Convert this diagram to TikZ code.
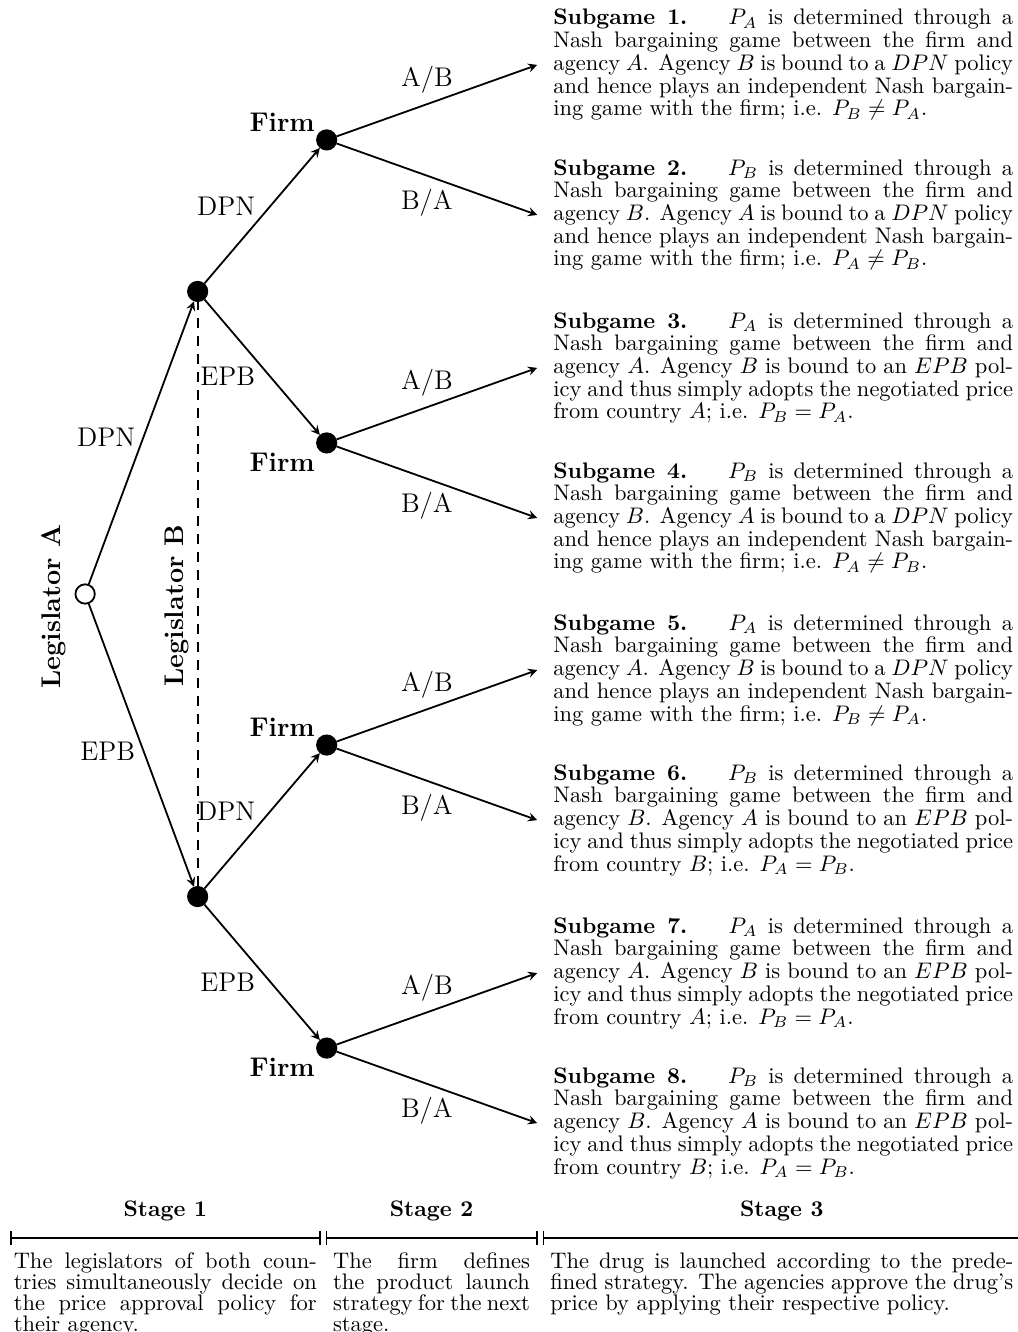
\documentclass[tikz,border=0pt]{standalone}
\usepackage{amsmath}
\usepackage{amssymb}
\usetikzlibrary{arrows, arrows.meta, positioning}

\newcommand{\treefont}{\fontsize{12pt}{14.5pt}\selectfont}
\newcommand{\gamefont}{\fontsize{10pt}{10.1pt}\selectfont}
\newcommand{\stagefont}{\fontsize{10pt}{9.4pt}\selectfont}

\tikzstyle{arrow} = [thick,->,>=stealth]
\tikzstyle{decision} = [circle, draw, thick, fill=black,
    inner sep=0pt, minimum size=8.6pt]
\tikzstyle{origin} = [decision, fill=white]
\tikzstyle{move} = [font=\treefont]
\tikzstyle{player} = [font=\treefont\bfseries]
\tikzstyle{infoset} = [thick, dash pattern=on 4.5pt off 3.5pt]
\tikzstyle{subgame} = [text width=204.4pt, align=justify, font=\gamefont]
\tikzstyle{timeline} = [thick, {Bar[width=6.5pt]}-{Bar[width=6.5pt]}]
\tikzstyle{stage} = [align=justify, font=\stagefont]

\begin{document}
\begin{tikzpicture}[node distance = 1cm, thick]
	\useasboundingbox (0,0) rectangle (15.89,-20.81);
	% legislators
	\node [origin] (LegA) at (1.33,-9.28) {};
	\node [decision, on grid, above right=4.727cm and 1.758cm of LegA]
		(LegB_dpn) {};
	\node [decision, on grid, below right=4.727cm and 1.758cm of LegA]
		(LegB_epb) {};
	\node [player, rotate=90, anchor=south] at ([yshift=-5.6pt]LegA.west)
		{Legislator A};
	% firm
	\node [decision, on grid, above right=2.367cm and 2.016cm of LegB_dpn,
		label={[player, label distance=-2.5pt, yshift=-1.6pt]above left:Firm}]
		(Firm_1) {};
	\node [decision, on grid, below right=2.367cm and 2.016cm of LegB_dpn,
		label={[player, label distance=-2.5pt, yshift=0.8pt]below left:Firm}]
		(Firm_2) {};
	\node [decision, on grid, above right=2.367cm and 2.016cm of LegB_epb,
		label={[player, label distance=-2.5pt, yshift=-1.6pt]above left:Firm}]
		(Firm_3) {};
	\node [decision, on grid, below right=2.367cm and 2.016cm of LegB_epb,
		label={[player, label distance=-2.5pt, yshift=0.8pt]below left:Firm}]
		(Firm_4) {};
	% subgame ends
	\coordinate [on grid, above right=1.172cm and 3.289cm of Firm_1] (End_1);
	\coordinate [on grid, below right=1.172cm and 3.289cm of Firm_1] (End_2);
	\coordinate [on grid, above right=1.172cm and 3.289cm of Firm_2] (End_3);
	\coordinate [on grid, below right=1.172cm and 3.289cm of Firm_2] (End_4);
	\coordinate [on grid, above right=1.172cm and 3.289cm of Firm_3] (End_5);
	\coordinate [on grid, below right=1.172cm and 3.289cm of Firm_3] (End_6);
	\coordinate [on grid, above right=1.172cm and 3.289cm of Firm_4] (End_7);
	\coordinate [on grid, below right=1.172cm and 3.289cm of Firm_4] (End_8);

	\draw [arrow] (LegA) -- node [move, left=0pt, pos=0.52] {DPN} (LegB_dpn);
	\draw [arrow] (LegA) -- node [move, left=0pt, pos=0.52] {EPB} (LegB_epb);
	\draw [infoset] (LegB_epb) -- node [player, sloped, above, pos=0.48]
		{Legislator B} (LegB_dpn);
	\draw [arrow] (LegB_dpn) -- node [move, left=3pt, pos=0.57] {DPN} (Firm_1);
	\draw [arrow] (LegB_dpn) -- node [move, left=3pt, pos=0.57] {EPB} (Firm_2);
	\draw [arrow] (LegB_epb) -- node [move, left=3pt, pos=0.57] {DPN} (Firm_3);
	\draw [arrow] (LegB_epb) -- node [move, left=3pt, pos=0.57] {EPB} (Firm_4);

	\draw [arrow] (Firm_1) -- node [move, above=1pt, pos=0.45] {A/B} (End_1);
	\draw [arrow] (Firm_1) -- node [move, below=2.3pt, pos=0.45] {B/A} (End_2);
	\draw [arrow] (Firm_2) -- node [move, above=1pt, pos=0.45] {A/B} (End_3);
	\draw [arrow] (Firm_2) -- node [move, below=2.3pt, pos=0.45] {B/A} (End_4);
	\draw [arrow] (Firm_3) -- node [move, above=1pt, pos=0.45] {A/B} (End_5);
	\draw [arrow] (Firm_3) -- node [move, below=2.3pt, pos=0.45] {B/A} (End_6);
	\draw [arrow] (Firm_4) -- node [move, above=1pt, pos=0.45] {A/B} (End_7);
	\draw [arrow] (Firm_4) -- node [move, below=2.3pt, pos=0.45] {B/A} (End_8);

	% subgames
	\node [subgame, right=0.12cm of End_1] (Sub_1) {\textbf{Subgame 1.} \quad
		$P_A$ is determined through a\linebreak Nash bargaining game between
		the firm and\linebreak agency $A$. Agency $B$ is bound to a $DPN$
		policy\linebreak and hence plays an independent Nash
		bargain-\linebreak ing game with the firm; i.e. $P_B \neq P_A$.};
	\node [subgame, right=0.12cm of End_2] (Sub_2) {\textbf{Subgame 2.} \quad
		$P_B$ is determined through a\linebreak Nash bargaining game between
		the firm and\linebreak agency $B$. Agency $A$ is bound to a $DPN$
		policy\linebreak and hence plays an independent Nash
		bargain-\linebreak ing game with the firm; i.e. $P_A \neq P_B$.};
	\node [subgame, right=0.12cm of End_3] (Sub_3) {\textbf{Subgame 3.} \quad
		$P_A$ is determined through a\linebreak Nash bargaining game between
		the firm and\linebreak agency $A$. Agency $B$ is bound to an $EPB$
		pol-\linebreak icy and thus simply adopts the negotiated
		price\linebreak from country $A$; i.e. $P_B = P_A$.};
	\node [subgame, right=0.12cm of End_4] (Sub_4) {\textbf{Subgame 4.} \quad
		$P_B$ is determined through a\linebreak Nash bargaining game between
		the firm and\linebreak agency $B$. Agency $A$ is bound to a $DPN$
		policy\linebreak and hence plays an independent Nash
		bargain-\linebreak ing game with the firm; i.e. $P_A \neq P_B$.};
	\node [subgame, right=0.12cm of End_5] (Sub_5) {\textbf{Subgame 5.} \quad
		$P_A$ is determined through a\linebreak Nash bargaining game between
		the firm and\linebreak agency $A$. Agency $B$ is bound to a $DPN$
		policy\linebreak and hence plays an independent Nash
		bargain-\linebreak ing game with the firm; i.e. $P_B \neq P_A$.};
	\node [subgame, right=0.12cm of End_6] (Sub_6) {\textbf{Subgame 6.} \quad
		$P_B$ is determined through a\linebreak Nash bargaining game between
		the firm and\linebreak agency $B$. Agency $A$ is bound to an $EPB$
		pol-\linebreak icy and thus simply adopts the negotiated
		price\linebreak from country $B$; i.e. $P_A = P_B$.};
	\node [subgame, right=0.12cm of End_7] (Sub_7) {\textbf{Subgame 7.} \quad
		$P_A$ is determined through a\linebreak Nash bargaining game between
		the firm and\linebreak agency $A$. Agency $B$ is bound to an $EPB$
		pol-\linebreak icy and thus simply adopts the negotiated
		price\linebreak from country $A$; i.e. $P_B = P_A$.};
	\node [subgame, right=0.12cm of End_8] (Sub_8) {\textbf{Subgame 8.} \quad
		$P_B$ is determined through a\linebreak Nash bargaining game between
		the firm and\linebreak agency $B$. Agency $A$ is bound to an $EPB$
		pol-\linebreak icy and thus simply adopts the negotiated
		price\linebreak from country $B$; i.e. $P_A = P_B$.};

	% stages
	\coordinate (T0) at (0.156,-19.34);
	\coordinate (T1) at (5.008,-19.34);
	\coordinate (T2) at (5.086,-19.34);
	\coordinate (T3) at (8.398,-19.34);
	\coordinate (T4) at (8.477,-19.34);
	\coordinate (T5) at (15.95,-19.34);
	\draw [timeline] (T0) -- node [above=4pt, font=\bfseries] {Stage 1}
		node [stage, below=2.7pt, text width=134.7pt] {The legislators of
		both coun-\linebreak tries simultaneously decide on\linebreak the
		price approval policy for\linebreak their agency.} (T1);
	\draw [timeline] (T2) -- node [above=4pt, font=\bfseries] {Stage 2}
		node [stage, below=2.7pt, text width=87.5pt] {The firm
		defines\linebreak the product launch\linebreak strategy for the
		next\linebreak stage.} (T3);
	\draw [timeline] (T4) -- node [above=4pt, font=\bfseries] {Stage 3}
		node [stage, below=2.7pt, text width=205.8pt] {The drug is launched
		according to the prede-\linebreak fined strategy. The agencies
		approve the drug's\linebreak price by applying their respective
		policy.} (T5);
\end{tikzpicture}
\end{document}
